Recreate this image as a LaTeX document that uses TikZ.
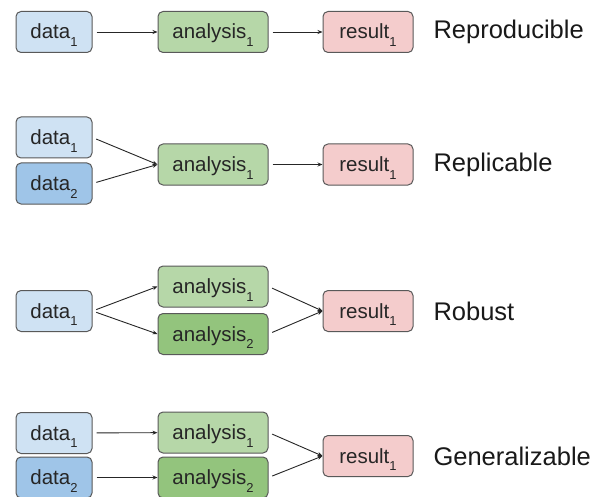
\documentclass[tikz,border=0pt]{standalone}
\usepackage{fontspec}
\setmainfont{Liberation Sans}
\usetikzlibrary{arrows.meta}
\definecolor{dataA}{HTML}{CFE2F3}
\definecolor{dataB}{HTML}{9FC5E8}
\definecolor{anaA}{HTML}{B6D7A8}
\definecolor{anaB}{HTML}{93C47D}
\definecolor{res}{HTML}{F4CCCC}
\definecolor{edge}{HTML}{595959}
\newcommand{\sub}[1]{\raisebox{-0.38em}{\fontsize{13}{13}\selectfont #1}}
\tikzset{
  box/.style={draw=edge, line width=1pt, rounded corners=5pt, minimum height=41pt,
    inner sep=0pt, text height=14pt, text depth=0pt,
    font=\fontsize{20.5}{24}\selectfont, text=black!85},
  databox/.style={box, minimum width=76pt},
  anabox/.style={box, minimum width=110pt},
  resbox/.style={box, minimum width=90pt, fill=res},
  label/.style={anchor=west, font=\fontsize{25.5}{30}\selectfont, text=black!90},
  flow/.style={-{Stealth[length=5pt,width=4pt]}, draw=black!85, line width=0.9pt, shorten <=4pt}
}
\begin{document}
\begin{tikzpicture}[x=1pt,y=-1pt]
      \clip (0,0) rectangle (599,497);
      \fill[white] (0,0) rectangle (599,497);
      % reproducible
      \draw
        (54,32) node[databox, fill=dataA] (d11){data\sub{1}}
        (213,32) node[anabox, fill=anaA] (a11){analysis\sub{1}}
        (368,32) node[resbox] (r1){result\sub{1}}
        (430,32) node[label] (l1){Reproducible};
      % replicable
      \draw
        (54,137.5) node[databox, fill=dataA] (d21){data\sub{1}}
        (54,183.5) node[databox, fill=dataB] (d22){data\sub{2}}
        (213,164.5) node[anabox, fill=anaA] (a21){analysis\sub{1}}
        (368,164.5) node[resbox] (r2){result\sub{1}}
        (430,164.5) node[label] (l2){Replicable};
      % robust
      \draw
        (54,311) node[databox, fill=dataA] (d31){data\sub{1}}
        (213,286.5) node[anabox, fill=anaA] (a31){analysis\sub{1}}
        (213,334) node[anabox, fill=anaB] (a32){analysis\sub{2}}
        (368,311) node[resbox] (r3){result\sub{1}}
        (430,311) node[label] (l3){Robust};
      % generalizable
      \draw
        (54,433) node[databox, fill=dataA] (d41){data\sub{1}}
        (54,477.5) node[databox, fill=dataB] (d42){data\sub{2}}
        (213,432.5) node[anabox, fill=anaA] (a41){analysis\sub{1}}
        (213,477.5) node[anabox, fill=anaB] (a42){analysis\sub{2}}
        (368,456) node[resbox] (r4){result\sub{1}}
        (430,456) node[label] (l4){Generalizable};
      \begin{scope}[flow]
        \draw (d11) to (a11);
        \draw (a11) to (r1);
        \draw (d21.east) to (a21.west);
        \draw (d22.east) to (a21.west);
        \draw (a21) to (r2);
        \draw (d31.east) to (a31.west);
        \draw (d31.east) to (a32.west);
        \draw (a31.east) to (r3.west);
        \draw (a32.east) to (r3.west);
        \draw (d41) to (a41);
        \draw (d42) to (a42);
        \draw (a41.east) to (r4.west);
        \draw (a42.east) to (r4.west);
      \end{scope}
    \end{tikzpicture}
\end{document}
